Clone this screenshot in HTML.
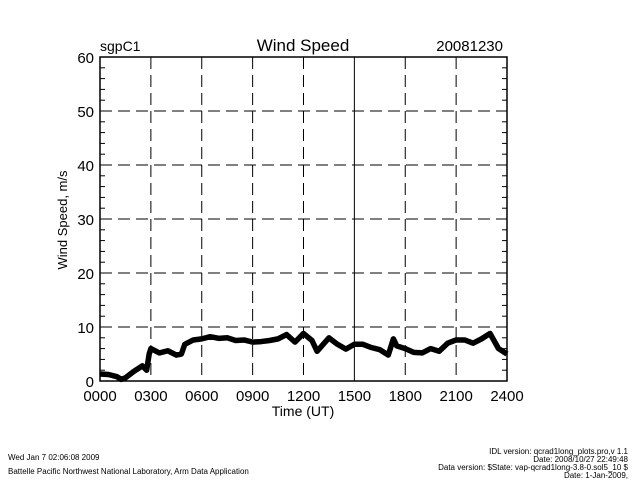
<!DOCTYPE html>
<html><head><meta charset="utf-8"><style>
body{margin:0;background:#fff;}
svg text{font-family:"Liberation Sans",sans-serif;fill:#000;}
</style></head><body>
<svg id="chart" width="640" height="480" xmlns="http://www.w3.org/2000/svg">
<rect width="640" height="480" fill="#fff"/>
<text x="100" y="51" font-size="14">sgpC1</text>
<text x="303" y="51" font-size="17" text-anchor="middle">Wind Speed</text>
<text x="503" y="51" font-size="15" text-anchor="end">20081230</text>
<g id="grid"></g>
<g id="ticks"></g>
<g id="data"></g>
<rect x="100" y="57" width="407" height="324" fill="none" stroke="#000" stroke-width="1.5"/>
<text x="303" y="416" font-size="14" text-anchor="middle">Time (UT)</text>
<text transform="translate(67,220) rotate(-90)" font-size="13" text-anchor="middle">Wind Speed, m/s</text>
<text x="8" y="460" font-size="8">Wed Jan  7 02:06:08 2009</text>
<text x="8" y="474" font-size="8">Battelle Pacific Northwest National Laboratory, Arm Data Application</text>
<g font-size="8" text-anchor="end">
<text x="628" y="454">IDL version: qcrad1long_plots.pro,v 1.1</text>
<text x="628" y="462">Date: 2008/10/27 22:49:48</text>
<text x="628" y="470">Data version: $State: vap-qcrad1long-3.8-0.sol5_10 $</text>
<text x="628" y="478">Date: 1-Jan-2009,</text>
</g>
</svg>
<script>
const xTickLabels=["0000","0300","0600","0900","1200","1500","1800","2100","2400"];
const yTickValues=[0,10,20,30,40,50,60];
const hours=[0,0.5,1,1.25,1.5,2,2.5,2.75,2.9,3,3.5,4,4.5,4.8,5,5.5,6,6.5,7,7.5,8,8.5,9,9.5,10,10.5,11,11.5,12,12.5,12.8,13.5,14,14.5,15,15.5,16,16.5,17,17.3,17.5,18,18.5,19,19.5,20,20.5,21,21.5,22,22.5,23,23.5,24];
const speeds=[1.3,1.2,0.8,0.3,0.6,1.8,2.8,2.0,5.0,6.0,5.2,5.6,4.8,5.0,6.8,7.6,7.8,8.2,7.9,8.0,7.5,7.6,7.2,7.3,7.5,7.8,8.6,7.2,8.8,7.5,5.5,8.0,6.8,5.9,6.8,6.8,6.2,5.8,4.8,7.8,6.5,6.0,5.3,5.2,6.0,5.5,7.0,7.6,7.6,7.0,7.8,8.8,6.0,5.0];
const NS="http://www.w3.org/2000/svg";
const X0=100,X1=507,Y0=381,Y1=57;
const xs=h=>X0+(X1-X0)*h/24;
const ys=v=>Y0-(Y0-Y1)*v/60;
function mk(tag,attrs,parent){const e=document.createElementNS(NS,tag);for(const k in attrs)e.setAttribute(k,attrs[k]);parent.appendChild(e);return e;}
const grid=document.getElementById('grid'),ticks=document.getElementById('ticks'),svg=document.getElementById('chart');
xTickLabels.forEach((lab,i)=>{
  const x=xs(i*3);
  if(i>0&&i<8){const l=mk('line',{x1:x,x2:x,y1:Y1,y2:Y0,stroke:'#000','stroke-width':1,'stroke-dasharray':i===5?'none':'12,6'},grid);
  
  }
  const t=mk('text',{x:x,y:401,'font-size':15,'text-anchor':'middle'},svg);t.textContent=lab;
  
  
});
yTickValues.forEach(v=>{
  const y=ys(v);
  if(v>0&&v<60){const l=mk('line',{x1:X0,x2:X1,y1:y,y2:y,stroke:'#000','stroke-width':1,'stroke-dasharray':'12,6'},grid);
  
  }
  const t=mk('text',{x:94,y:y+6,'font-size':15,'text-anchor':'end'},svg);t.textContent=v;
  
  
});
for(let v=0;v<=60;v+=2){const y=ys(v),len=(v%10===0)?8:5;
  mk('line',{x1:X0,x2:X0+len,y1:y,y2:y,stroke:'#000'},ticks);
  mk('line',{x1:X1,x2:X1-len,y1:y,y2:y,stroke:'#000'},ticks);}
const pts=hours.map((h,i)=>xs(h)+','+ys(speeds[i])).join(' ');
const pl=mk('polyline',{points:pts,fill:'none',stroke:'#000','stroke-width':5.5,'stroke-linejoin':'round'},document.getElementById('data'));


</script>
</body></html>
